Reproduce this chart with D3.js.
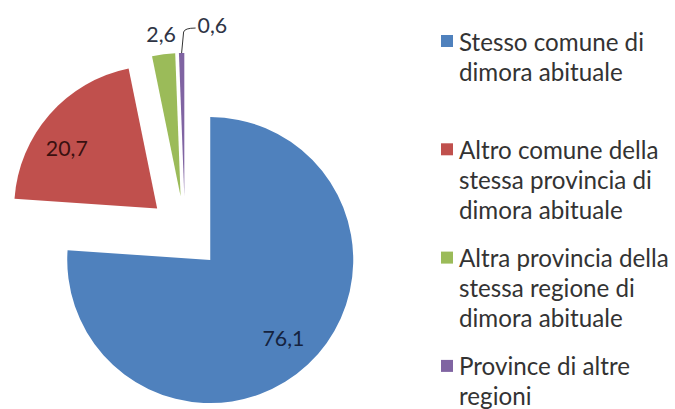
<!DOCTYPE html>
<html>
<head>
<meta charset="UTF-8">
<title>Pie chart</title>
<script src="https://d3js.org/d3.v7.min.js"></script>
<style>
  html, body { margin: 0; padding: 0; background: #fff; }
  svg { display: block; }
</style>
</head>
<body>
<svg width="675" height="409"></svg>
<script>
// data
const categories = [
  ["Stesso comune di", "dimora abituale"],
  ["Altro comune della", "stessa provincia di", "dimora abituale"],
  ["Altra provincia della", "stessa regione di", "dimora abituale"],
  ["Province di altre", "regioni"]
];
const values = [76.1, 20.7, 2.6, 0.6];
const colors = ["#4f81bd", "#c0504d", "#9bbb59", "#8064a2"];
const labelColors = ["#15233f", "#3a1010", "#2e3445", "#2e3445"];

const svg = d3.select("svg"),
      width = +svg.attr("width"),
      height = +svg.attr("height");

const fontFamily = "Lato, 'Open Sans', sans-serif";
const itFormat = d3.formatLocale({decimal: ",", thousands: ".", grouping: [3], currency: ["", "€"]}).format(".1f");

// pick font size so text width matches the original
function fitSize(str, target) {
  const t = svg.append("text").attr("font-family", fontFamily).attr("font-size", 20).text(str);
  const w = t.node().getComputedTextLength();
  t.remove();
  return 20 * target / w;
}
const legendSize = fitSize("Stesso comune di", 185);
const labelSize = fitSize("76,1", 42);

// pie
const cx = 185, cy = 233, radius = 143, explode = 37;

const pie = d3.pie().sort(null).value(d => d);
const arcs = pie(values);
const arc = d3.arc().innerRadius(0).outerRadius(radius);

const mid = d => (d.startAngle + d.endAngle) / 2;
const offset = (d, dist) => [Math.sin(mid(d)) * dist, -Math.cos(mid(d)) * dist];

const slices = svg.append("g")
    .attr("transform", `translate(${cx},${cy})`)
  .selectAll("g")
  .data(arcs)
  .join("g")
    .attr("transform", d => `translate(${offset(d, explode)})`);

slices.append("path")
    .attr("d", arc)
    .attr("fill", (d, i) => colors[i]);

// labels: big slices inside, small ones outside
slices.each(function(d, i) {
  const g = d3.select(this);
  let pos, anchor = "middle";
  if (i === 0) {
    pos = offset(d, radius * 0.75);
  } else if (i === 1) {
    const a = mid(d) - 0.13;
    pos = [Math.sin(a) * radius * 0.76, -Math.cos(a) * radius * 0.76];
  } else if (i === 2) {
    pos = offset(d, radius * 1.14);
  } else {
    // leader line from the tip of the thin slice
    const tip = offset(d, radius);
    const elbow = [tip[0] + 2, tip[1] - 21];
    const end = [tip[0] + 14, tip[1] - 25];
    g.append("path")
        .attr("d", `M${tip}L${elbow}Q${elbow[0] + 1},${end[1]} ${end}`)
        .attr("fill", "none")
        .attr("stroke", "#333")
        .attr("stroke-width", 1);
    pos = [end[0] + 2, end[1] - 3];
    anchor = "start";
  }
  g.append("text")
      .attr("x", pos[0])
      .attr("y", pos[1])
      .attr("text-anchor", anchor)
      .attr("dominant-baseline", "central")
      .attr("font-family", fontFamily)
      .attr("font-size", labelSize)
      .attr("fill", labelColors[i])
      .text(itFormat(d.data));
});

// legend
const legendX = 441, legendY0 = 41, entryStep = 108.3, lineStep = 30;

const legend = svg.append("g")
  .selectAll("g")
  .data(categories)
  .join("g")
    .attr("transform", (d, i) => `translate(${legendX},${legendY0 + i * entryStep})`);

legend.append("rect")
    .attr("x", 0)
    .attr("y", -6)
    .attr("width", 12)
    .attr("height", 12)
    .attr("fill", (d, i) => colors[i]);

legend.append("text")
    .attr("font-family", fontFamily)
    .attr("font-size", legendSize)
    .attr("fill", "#333")
  .selectAll("tspan")
  .data(d => d)
  .join("tspan")
    .attr("x", 18)
    .attr("y", (d, j) => j * lineStep)
    .attr("dominant-baseline", "central")
    .text(d => d);
</script>
</body>
</html>
